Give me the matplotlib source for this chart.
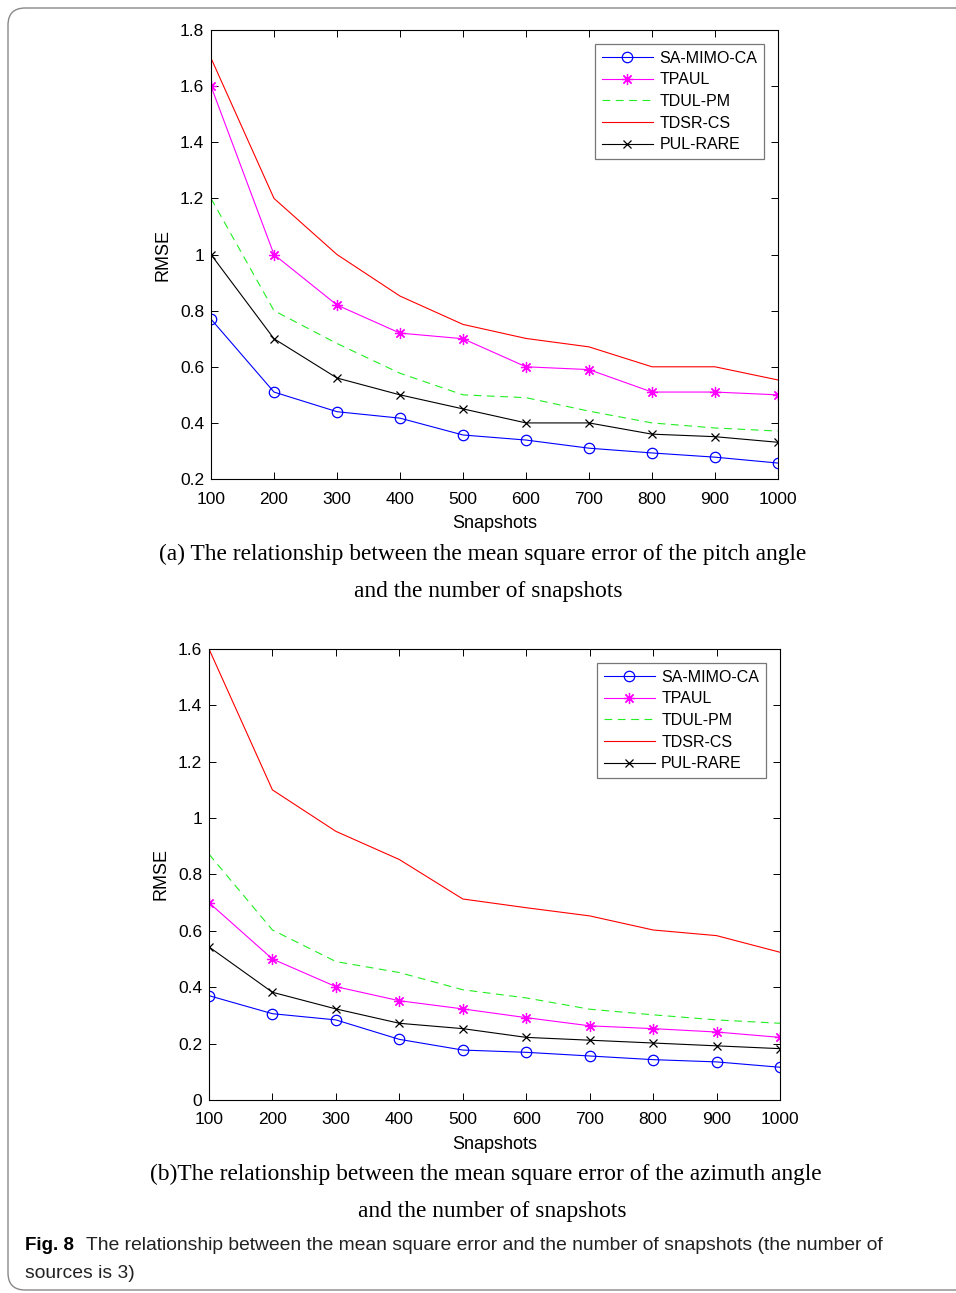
import matplotlib
matplotlib.use("Agg")
import matplotlib.pyplot as plt
from matplotlib.patches import FancyBboxPatch

# snapshot counts shared by both panels
snapshots = [100, 200, 300, 400, 500, 600, 700, 800, 900, 1000]
methods = ["SA-MIMO-CA", "TPAUL", "TDUL-PM", "TDSR-CS", "PUL-RARE"]

# (a) pitch angle RMSE
pitch_sa = [0.77, 0.51, 0.44, 0.417, 0.357, 0.339, 0.31, 0.293, 0.278, 0.257]
pitch_tpaul = [1.6, 1.0, 0.82, 0.72, 0.70, 0.60, 0.59, 0.51, 0.51, 0.50]
pitch_tdul = [1.2, 0.80, 0.683, 0.577, 0.50, 0.49, 0.442, 0.40, 0.382, 0.371]
pitch_tdsr = [1.7, 1.2, 1.0, 0.852, 0.751, 0.701, 0.671, 0.60, 0.60, 0.553]
pitch_pul = [1.0, 0.70, 0.56, 0.50, 0.45, 0.40, 0.40, 0.36, 0.351, 0.331]

# (b) azimuth angle RMSE
azim_sa = [0.37, 0.306, 0.284, 0.215, 0.177, 0.169, 0.156, 0.143, 0.135, 0.116]
azim_tpaul = [0.70, 0.50, 0.402, 0.352, 0.323, 0.292, 0.263, 0.253, 0.241, 0.222]
azim_tdul = [0.872, 0.603, 0.491, 0.452, 0.391, 0.362, 0.322, 0.302, 0.284, 0.272]
azim_tdsr = [1.6, 1.1, 0.953, 0.853, 0.713, 0.682, 0.653, 0.603, 0.583, 0.524]
azim_pul = [0.543, 0.382, 0.323, 0.272, 0.253, 0.222, 0.212, 0.202, 0.192, 0.182]

pitch_ticks = [0.2, 0.4, 0.6, 0.8, 1.0, 1.2, 1.4, 1.6, 1.8]
azim_ticks = [0, 0.2, 0.4, 0.6, 0.8, 1.0, 1.2, 1.4, 1.6]

caption_a = ["(a) The relationship between the mean square error of the pitch angle",
             "and the number of snapshots"]
caption_b = ["(b)The relationship between the mean square error of the azimuth angle",
             "and the number of snapshots"]
fig_caption = ["The relationship between the mean square error and the number of snapshots (the number of",
               "sources is 3)"]

plt.rcParams["font.family"] = ["Liberation Sans", "DejaVu Sans"]

asterisk = (8, 2, 0)
styles = [
    dict(color="#0000ff", marker="o", markersize=7.5, markerfacecolor="none", linestyle="-"),
    dict(color="#ff00ff", marker=asterisk, markersize=8, linestyle="-"),
    dict(color="#22ee22", marker=None, linestyle=(0, (7, 5))),
    dict(color="#ff0000", marker=None, linestyle="-"),
    dict(color="#000000", marker="x", markersize=6, linestyle="-"),
]


def fmt(v):
    s = f"{v:.1f}"
    return s[:-2] if s.endswith(".0") else s


def draw_panel(ax, series, yticks):
    for name, vals, st in zip(methods, series, styles):
        ax.plot(snapshots, vals, label=name, linewidth=0.8, markeredgewidth=0.9, **st)
    ax.set_xlim(100, 1000)
    ax.set_ylim(yticks[0], yticks[-1])
    ax.set_xticks(snapshots)
    ax.set_xticklabels([str(s) for s in snapshots])
    ax.set_yticks(yticks)
    ax.set_yticklabels([fmt(t) for t in yticks])
    ax.tick_params(direction="in", top=True, right=True, length=5, width=0.7,
                   labelsize=12.5)
    ax.tick_params(axis="x", pad=9)
    ax.tick_params(axis="y", pad=5)
    for sp in ax.spines.values():
        sp.set_linewidth(0.8)
    ax.set_xlabel("Snapshots", fontsize=13, labelpad=6)
    ax.set_ylabel("RMSE", fontsize=13, labelpad=6)
    leg = ax.legend(loc="upper right", bbox_to_anchor=(0.983, 0.979), fontsize=11.5,
                    handlelength=3.2, frameon=True, fancybox=False,
                    borderpad=0.4, labelspacing=0.42, handletextpad=0.4,
                    borderaxespad=0.3)
    leg.get_frame().set_edgecolor("#555555")
    leg.get_frame().set_linewidth(0.9)


fig = plt.figure(figsize=(9.56, 12.93), dpi=100)

ax1 = fig.add_axes([0.2207, 0.6295, 0.5931, 0.3473])
draw_panel(ax1, [pitch_sa, pitch_tpaul, pitch_tdul, pitch_tdsr, pitch_pul], pitch_ticks)

ax2 = fig.add_axes([0.2186, 0.1493, 0.5973, 0.3488])
draw_panel(ax2, [azim_sa, azim_tpaul, azim_tdul, azim_tdsr, azim_pul], azim_ticks)

serif = ["Liberation Serif", "DejaVu Serif"]
fig.text(483 / 956, 1 - 554 / 1293, caption_a[0], ha="center", va="center",
         fontsize=16.8, family=serif)
fig.text(488 / 956, 1 - 591 / 1293, caption_a[1], ha="center", va="center",
         fontsize=16.8, family=serif)
fig.text(486 / 956, 1 - 1174 / 1293, caption_b[0], ha="center", va="center",
         fontsize=16.8, family=serif)
fig.text(492 / 956, 1 - 1212 / 1293, caption_b[1], ha="center", va="center",
         fontsize=16.8, family=serif)

# figure caption below the panels
fig.text(25 / 956, 1 - 1246 / 1293, "Fig. 8", ha="left", va="center",
         fontsize=13.5, fontweight="bold")
fig.text(86 / 956, 1 - 1246 / 1293, fig_caption[0],
         ha="left", va="center", fontsize=13.85, color="#222222")
fig.text(25 / 956, 1 - 1273 / 1293, fig_caption[1], ha="left", va="center",
         fontsize=13.85, color="#222222")

# rounded frame around the figure
frame = FancyBboxPatch((8 / 956, 3 / 1293), 1.2, 1 - 11 / 1293,
                       boxstyle="round,pad=0,rounding_size=0.018",
                       transform=fig.transFigure, fill=False,
                       edgecolor="#888888", linewidth=1.0, clip_on=False,
                       mutation_aspect=956 / 1293)
fig.patches.append(frame)

fig.savefig("out.png", dpi=100)
